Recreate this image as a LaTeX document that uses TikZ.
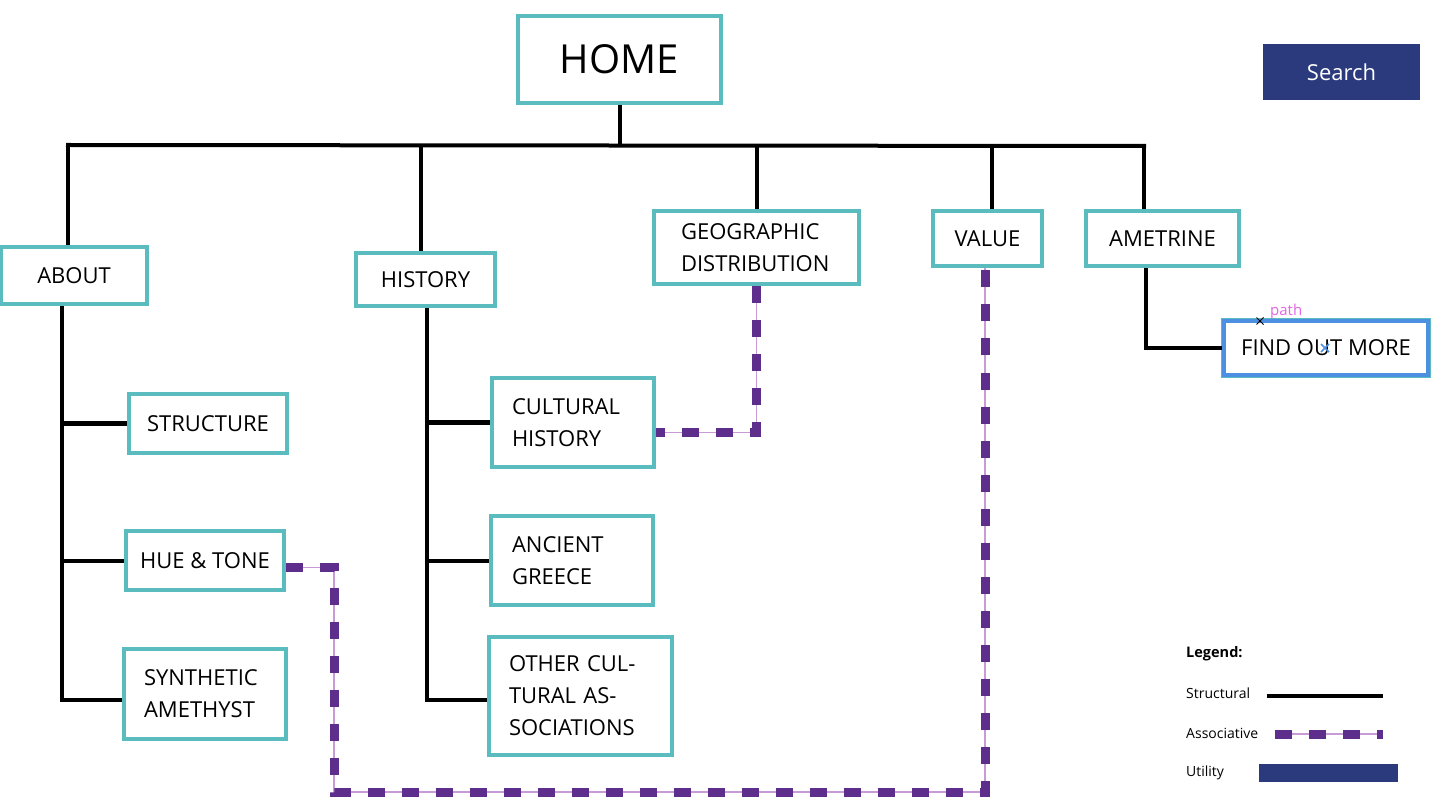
\documentclass[tikz,border=0pt]{standalone}
\usepackage{fontspec}
\setmainfont{Open Sans}
\usetikzlibrary{calc}
\definecolor{tealc}{HTML}{5BBCBF}
\definecolor{navy}{HTML}{2B3A7D}
\definecolor{assocc}{HTML}{5E2E8C}
\definecolor{assocthin}{HTML}{C89AD6}
\definecolor{findblue}{HTML}{4D8FE0}
\definecolor{pathpink}{HTML}{E366E6}
\begin{document}
\begin{tikzpicture}[x=1pt,y=-1pt,
  box/.style={draw=tealc, line width=4pt, fill=white, inner sep=0pt, align=left,
    font=\fontsize{22}{32}\selectfont},
  struct/.style={draw=black, line width=4pt},
  assoc/.style={draw=assocc, line width=9pt, dash pattern=on 17pt off 17pt,
    preaction={draw=assocthin, line width=1.2pt, solid}},
  legtext/.style={font=\fontsize{14}{16}\selectfont, anchor=west, inner sep=0pt}
]
\useasboundingbox (0,0) rectangle (1436,810);
\fill[white] (0,0) rectangle (1436,810);

% nodes
\node[box, minimum width=203pt, minimum height=87pt, font=\fontsize{40}{44}\selectfont] (home) at (619.5,59.5) {HOME};
\node[draw=none, fill=navy, minimum width=157pt, minimum height=56pt, inner sep=0pt, text=white, font=\fontsize{22}{26}\selectfont] (search) at (1341.5,72) {Search};
\node[box, minimum width=146pt, minimum height=57pt] (about) at (74,275.5) {ABOUT};
\node[box, minimum width=139pt, minimum height=53pt] (hist) at (425.5,279.5) {HISTORY};
\node[box, minimum width=205pt, minimum height=73pt, text width=151pt] (geo) at (756.5,247.5) {GEOGRAPHIC\\DISTRIBUTION};
\node[box, minimum width=109pt, minimum height=55pt] (value) at (987.5,238.5) {VALUE};
\node[box, minimum width=153pt, minimum height=55pt] (ame) at (1162.5,238.5) {AMETRINE};
\node[box, draw=findblue, preaction={draw=tealc, line width=6pt}, minimum width=204pt, minimum height=54pt] (find) at (1326,348) {FIND OUT MORE};
\node[box, minimum width=158pt, minimum height=59pt] (struc) at (208,423.5) {STRUCTURE};
\node[box, minimum width=158pt, minimum height=59pt] (hue) at (205,560.5) {HUE \& TONE};
\node[box, minimum width=162pt, minimum height=90pt, text width=122pt] (syn) at (205,694) {SYNTHETIC\\AMETHYST};
\node[box, minimum width=162pt, minimum height=89pt, text width=122pt] (cult) at (573,422.5) {CULTURAL\\HISTORY};
\node[box, minimum width=162pt, minimum height=89pt, text width=120pt] (anc) at (572,560.5) {ANCIENT\\GREECE};
\node[box, minimum width=183pt, minimum height=118pt, text width=143pt] (other) at (580.5,696) {OTHER CUL-\\TURAL AS-\\SOCIATIONS};

% structural connectors
\coordinate (busL) at (68,145);
\coordinate (busR) at (1144,146);
\coordinate (busH) at (421,145);
\coordinate (busV) at (992,146);
\draw[struct] (home.south) -- (home.south |- busL);
\draw[struct, line cap=rect] (busL) -- (busR);
\draw[struct] (busL) -- (busL |- about.north);
\draw[struct] (busH) -- (busH |- hist.north);
\draw[struct] (geo.north |- busL) -- (geo.north);
\draw[struct] (busV) -- (busV |- value.north);
\draw[struct] (busR) -- (busR |- ame.north);

\coordinate (aX) at (62,0);
\coordinate (synW) at ($(syn.west)+(0,6)$);
\draw[struct] (aX |- about.south) -- (aX |- synW) -- (synW);
\draw[struct] (aX |- struc.west) -- (struc.west);
\draw[struct] (aX |- hue.west) -- (hue.west);

\coordinate (hX) at (427,0);
\coordinate (othW) at ($(other.west)+(0,4)$);
\draw[struct] (hX |- hist.south) -- (hX |- othW) -- (othW);
\draw[struct] (hX |- cult.west) -- (cult.west);
\draw[struct] (hX |- anc.west) -- (anc.west);

\coordinate (mX) at (1146,0);
\draw[struct] (mX |- ame.south) -- (mX |- find.west) -- (find.west);

% associative connectors
\coordinate (cultE) at ($(cult.east)+(0,10)$);
\draw[assoc] (geo.south) -- (geo.south |- cultE) -- (cultE);
\coordinate (hueE) at ($(hue.east)+(0,7)$);
\coordinate (c1) at (334,0);
\coordinate (c2) at (985,792);
\draw[assoc] (hueE) -- (c1 |- hueE) -- (c1 |- c2) -- (c2) -- (c2 |- value.south);

% path marker artifacts
\node[text=pathpink, font=\fontsize{15}{17}\selectfont, inner sep=0pt, anchor=west] (pathlbl) at (1270,312) {path};
\coordinate (xk) at (1260,321);
\draw[black, line width=1pt] ($(xk)+(-3.5,-3.5)$) -- ($(xk)+(3.5,3.5)$) ($(xk)+(-3.5,3.5)$) -- ($(xk)+(3.5,-3.5)$);
\coordinate (xb) at (1325,348);
\draw[findblue, line width=1.5pt] ($(xb)+(-4,-4)$) -- ($(xb)+(4,4)$) ($(xb)+(-4,4)$) -- ($(xb)+(4,-4)$);

% legend
\node[legtext, font=\bfseries\fontsize{14.5}{16}\selectfont] (leg) at (1186,654) {Legend:};
\node[legtext] (lstruct) at (1186,693) {Structural};
\node[legtext] (lassoc) at (1186,733) {Associative};
\node[legtext] (lutil) at (1186,773) {Utility};
\coordinate (ls1) at (1267,696);
\coordinate (ls2) at (1383,696);
\draw[struct] (ls1) -- (ls2);
\coordinate (la1) at (1275,734);
\coordinate (la2) at (1383,734);
\draw[assoc] (la1) -- (la2);
\coordinate (lu1) at (1259,764);
\coordinate (lu2) at (1398,782);
\fill[navy] (lu1) rectangle (lu2);
\end{tikzpicture}
\end{document}
